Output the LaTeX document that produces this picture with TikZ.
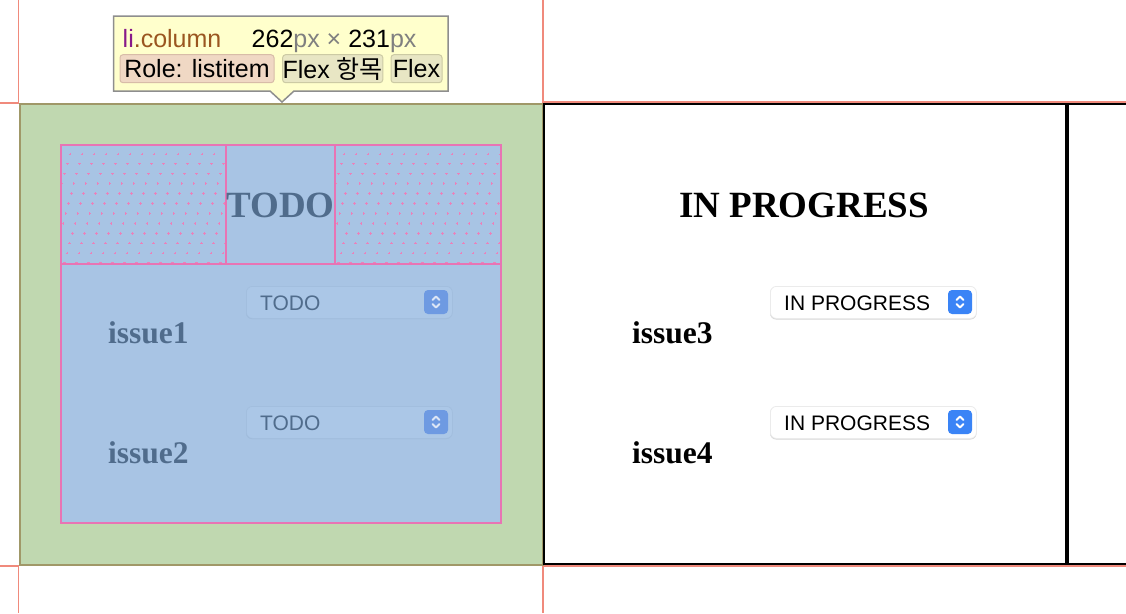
\documentclass[tikz,border=0pt]{standalone}
\usepackage{fontspec}
\setmainfont{Liberation Serif}
\setsansfont{Liberation Sans}
\newfontfamily\krfont{Noto Sans CJK KR}

\definecolor{guidecol}{HTML}{F08A7C}
\definecolor{colgreen}{HTML}{C0D8B0}
\definecolor{colgreenline}{HTML}{A09868}
\definecolor{boxblue}{HTML}{A8C4E4}
\definecolor{boxtext}{HTML}{506C8C}
\definecolor{pinkcol}{HTML}{E874B4}
\definecolor{tipfill}{HTML}{FFFFCC}
\definecolor{tipline}{HTML}{8E8E8E}
\definecolor{tagpurple}{HTML}{881A8A}
\definecolor{tagbrown}{HTML}{9A5620}
\definecolor{pxgrey}{HTML}{808080}
\definecolor{rolefill}{HTML}{F0D8C4}
\definecolor{roleline}{HTML}{D8BCA8}
\definecolor{flexfill}{HTML}{E8E6C4}
\definecolor{flexline}{HTML}{CCCAA4}
\definecolor{iconblue}{HTML}{3A84F6}
\definecolor{iconfaded}{HTML}{6E9AE2}
\definecolor{chevfaded}{HTML}{DCE6F6}
\definecolor{selfaded}{HTML}{ABC7E7}
\definecolor{selfadedline}{HTML}{9CB8D8}

\begin{document}
\begin{tikzpicture}
        [x=1pt, y=-1pt,
        guideline/.style={guidecol, line width=1.5pt},
        pinkline/.style={pinkcol, line width=2pt},
        colborder/.style={black, line width=2pt},
        hatchdot/.style={pinkcol!90, line width=0.9pt},
        tiptext/.style={font=\sffamily\fontsize{25}{28}\selectfont, inner sep=0pt},
        badge/.style={tiptext, rounded corners=3pt, line width=1pt, minimum height=28pt},
        heading/.style={font=\bfseries\fontsize{37}{40}\selectfont, inner sep=0pt},
        issue/.style={font=\bfseries\fontsize{31.5}{34}\selectfont, inner sep=0pt},
        selbox/.style={rounded corners=6pt, line width=0.8pt, minimum width=206pt, minimum height=32pt, anchor=north west},
        seltext/.style={font=\sffamily\fontsize{21}{24}\selectfont, inner sep=0pt, anchor=base west},
        selicon/.style={rounded corners=4pt, minimum width=24pt, minimum height=24pt, inner sep=0pt},
        chevron/.style={line width=2pt, line cap=round, line join=round}]

        \useasboundingbox (0,0) rectangle (1126,613);

        % guide lines of the inspector (salmon)
        \draw[guideline] (0,103) -- (18.5,103) -- (18.5,0);
        \draw[guideline] (0,566) -- (18.5,566) -- (18.5,613);
        \draw[guideline] (543,0) -- (543,102) -- (1126,102);
        \draw[guideline] (543,613) -- (543,566) -- (1126,566);

        % highlighted column (margin = green)
        \draw[colgreenline, fill=colgreen, line width=1.5pt] (20,104) rectangle (543,565);

        % content box (blue) with the header cells
        \fill[boxblue] (61,145) rectangle (501,523);
        \begin{scope}
            \clip (61,145) rectangle (226,264);
            \foreach \r [evaluate=\r as \yy using {154+9.9*\r}, evaluate=\r as \sh using {mod(100-2.7*\r,12)}] in {0,...,11}
                \foreach \c in {0,...,15}
                    \draw[hatchdot] (54+\sh+12*\c-1.3,\yy) -- ++(2.6,0) (54+\sh+12*\c,\yy-1.3) -- ++(0,2.6);
        \end{scope}
        \begin{scope}
            \clip (335,145) rectangle (501,264);
            \foreach \r [evaluate=\r as \yy using {154+9.9*\r}, evaluate=\r as \sh using {mod(100-2.7*\r,12)}] in {0,...,11}
                \foreach \c in {0,...,15}
                    \draw[hatchdot] (328+\sh+12*\c-1.3,\yy) -- ++(2.6,0) (328+\sh+12*\c,\yy-1.3) -- ++(0,2.6);
        \end{scope}
        \draw[pinkline] (61,145) rectangle (501,523);
        \draw[pinkline] (61,264) -- (501,264) (226,145) -- (226,264) (335,145) -- (335,264);

        % second column (black border)
        \draw[colborder] (1126,104) -- (544,104) -- (544,564) -- (1126,564);
        \draw[black, line width=4pt] (1067,104) -- (1067,564);

        % headings
        \node[heading, text=boxtext, anchor=base] (todohead) at (280.5,217) {TODO};
        \node[heading, anchor=base] (proghead) at (804,217) {IN PROGRESS};

        % issues
        \node[issue, text=boxtext, anchor=base west] (issue1) at (108,343) {issue1};
        \node[issue, text=boxtext, anchor=base west] (issue2) at (108,463) {issue2};
        \node[issue, anchor=base west] (issue3) at (632,343) {issue3};
        \node[issue, anchor=base west] (issue4) at (632,463) {issue4};

        % select boxes, faded ones under the blue box
        \fill[selfadedline, rounded corners=6pt] (246,287.5) rectangle (452,319);
        \fill[selfadedline, rounded corners=6pt] (246,407.5) rectangle (452,439);
        \node[selbox, fill=selfaded, draw=selfadedline!60!selfaded] (sel1) at (246,286) {};
        \node[selbox, fill=selfaded, draw=selfadedline!60!selfaded] (sel2) at (246,406) {};
        \node[seltext, text=boxtext] (seltext1) at (260,310) {TODO};
        \node[seltext, text=boxtext] (seltext2) at (260,430) {TODO};
        \node[selicon, fill=iconfaded] (icon1) at (436,302) {};
        \node[selicon, fill=iconfaded] (icon2) at (436,422) {};

        \fill[black!16, rounded corners=6pt] (770,287) rectangle (976.5,319.5);
        \fill[black!16, rounded corners=6pt] (770,407) rectangle (976.5,439.5);
        \node[selbox, fill=white, draw=black!8] (sel3) at (770,286) {};
        \node[selbox, fill=white, draw=black!8] (sel4) at (770,406) {};
        \node[seltext] (seltext3) at (784,310) {IN PROGRESS};
        \node[seltext] (seltext4) at (784,430) {IN PROGRESS};
        \node[selicon, fill=iconblue] (icon3) at (960,302) {};
        \node[selicon, fill=iconblue] (icon4) at (960,422) {};

        % up/down chevrons on the icons
        \foreach \ic/\cc in {icon1/chevfaded, icon2/chevfaded, icon3/white, icon4/white} {
            \draw[chevron, \cc] ([xshift=-3.5pt, yshift=2pt]\ic.center) -- ([yshift=5.5pt]\ic.center) -- ([xshift=3.5pt, yshift=2pt]\ic.center);
            \draw[chevron, \cc] ([xshift=-3.5pt, yshift=-2pt]\ic.center) -- ([yshift=-5.5pt]\ic.center) -- ([xshift=3.5pt, yshift=-2pt]\ic.center);
        }

        % inspector tooltip with its pointer
        \draw[tipline, fill=tipfill, line width=1.5pt]
            (113.5,16) -- (448,16) -- (448,91) -- (294,91) -- (282,102) -- (270,91) -- (113.5,91) -- cycle;
        \node[tiptext, anchor=base west] (tipname) at (122.5,47.5) {\textcolor{tagpurple}{li}\textcolor{tagbrown}{.column}};
        \node[tiptext, anchor=base west] (tipsize) at (251.5,47.5) {262\textcolor{pxgrey}{px × }231\textcolor{pxgrey}{px}};
        \node[badge, fill=rolefill, draw=roleline, minimum width=154pt] (role) at (197,68.7) {Role: listitem};
        \node[badge, fill=flexfill, draw=flexline, minimum width=100pt] (flexitem) at (332.7,68.7) {Flex \krfont 항목};
        \node[badge, fill=flexfill, draw=flexline, minimum width=51pt] (flex) at (416.5,68.7) {Flex};
    \end{tikzpicture}
\end{document}
